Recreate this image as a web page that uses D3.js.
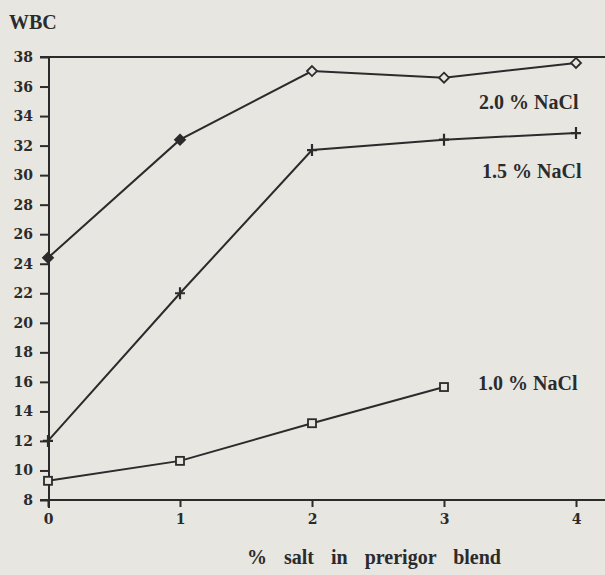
<!DOCTYPE html>
<html><head><meta charset="utf-8">
<script src="https://cdn.jsdelivr.net/npm/d3@7"></script>
<style>
html,body{margin:0;padding:0;background:#e7e6e1;}
svg{display:block;}
</style></head>
<body>
<script>
const saltLevels = [0, 1, 2, 3, 4];
const yTicks = [8,10,12,14,16,18,20,22,24,26,28,30,32,34,36,38];
const nacl20 = [24.4, 32.4, 37.05, 36.6, 37.6];
const nacl15 = [12.0, 22.0, 31.7, 32.4, 32.85];
const nacl10 = [9.3, 10.65, 13.2, 15.65];
const seriesNames = ["2.0 % NaCl", "1.5 % NaCl", "1.0 % NaCl"];
const markerTypes = ["diamond", "plus", "square"];
const yLabel = "WBC";
const xLabel = "% salt in prerigor blend";

const W = 605, H = 575;
const ink = "#2b2b2b";
const bg = "#e7e6e1";
const svg = d3.select("body").append("svg").attr("width", W).attr("height", H);
svg.append("rect").attr("width", W).attr("height", H).attr("fill", bg);

const x = d3.scaleLinear().domain([0, 4]).range([48, 576]);
const y = d3.scaleLinear().domain([8, 38]).range([500, 57]);

const font = "'Liberation Serif', 'Times New Roman', serif";
const tickFont = "'DejaVu Serif', serif";

// Y axis
const yAxis = svg.append("g").attr("transform", "translate(49,0)")
  .call(d3.axisLeft(y).tickValues(yTicks).tickSize(9).tickPadding(7).tickFormat(d3.format("d")));
yAxis.select(".domain").remove();
yAxis.append("line").attr("x1", 0).attr("x2", 0).attr("y1", y(38)).attr("y2", y(8)+8)
  .attr("stroke", ink).attr("stroke-width", 2);
yAxis.selectAll(".tick line").attr("stroke", ink).attr("stroke-width", 2);
yAxis.selectAll(".tick text").attr("fill", ink).attr("font-family", tickFont)
  .attr("font-weight", "bold").attr("font-size", 14);

// X axis
const xAxis = svg.append("g").attr("transform", "translate(0,500)")
  .call(d3.axisBottom(x).tickValues(saltLevels).tickSize(7).tickPadding(7).tickFormat(d3.format("d")));
xAxis.select(".domain").remove();
xAxis.append("line").attr("x1", 40).attr("x2", W).attr("y1", 0).attr("y2", 0)
  .attr("stroke", ink).attr("stroke-width", 2);
xAxis.selectAll(".tick line").attr("stroke", ink).attr("stroke-width", 2);
xAxis.selectAll(".tick text").attr("fill", ink).attr("font-family", tickFont)
  .attr("font-weight", "bold").attr("font-size", 14);

// top frame line
svg.append("line").attr("x1", 40).attr("x2", W).attr("y1", y(38)).attr("y2", y(38))
  .attr("stroke", ink).attr("stroke-width", 2);

// series
const series = [nacl20, nacl15, nacl10];
const line = d3.line().x((d, i) => x(saltLevels[i])).y(d => y(d));
series.forEach((vals, si) => {
  svg.append("path").attr("d", line(vals)).attr("fill", "none")
    .attr("stroke", ink).attr("stroke-width", 2);
  const g = svg.append("g");
  vals.forEach((v, i) => {
    const cx = x(saltLevels[i]), cy = y(v);
    const t = markerTypes[si];
    if (t === "diamond") {
      g.append("path").attr("d", `M${cx},${cy-5}L${cx+5},${cy}L${cx},${cy+5}L${cx-5},${cy}Z`)
        .attr("fill", i < 2 ? ink : bg).attr("stroke", ink).attr("stroke-width", 1.8);
    } else if (t === "plus") {
      g.append("path").attr("d", `M${cx-5},${cy}H${cx+5}M${cx},${cy-6}V${cy+6}`)
        .attr("stroke", ink).attr("stroke-width", 2.2);
    } else {
      g.append("rect").attr("x", cx-4).attr("y", cy-4).attr("width", 8).attr("height", 8)
        .attr("fill", bg).attr("stroke", ink).attr("stroke-width", 1.8);
    }
  });
});

// series labels
const labelPos = [[479, 109], [482, 178], [478, 390]];
seriesNames.forEach((n, i) => {
  svg.append("text").attr("x", labelPos[i][0]).attr("y", labelPos[i][1])
    .attr("font-family", font).attr("font-weight", "bold").attr("font-size", 20)
    .attr("fill", ink).text(n);
});

// axis titles
svg.append("text").attr("x", 9).attr("y", 29).attr("font-family", font)
  .attr("font-weight", "bold").attr("font-size", 20).attr("fill", ink).text(yLabel);
svg.append("text").attr("x", 247).attr("y", 564).attr("font-family", font)
  .attr("font-weight", "bold").attr("font-size", 20).attr("word-spacing", 12)
  .attr("fill", ink).text(xLabel);
</script>
</body></html>
